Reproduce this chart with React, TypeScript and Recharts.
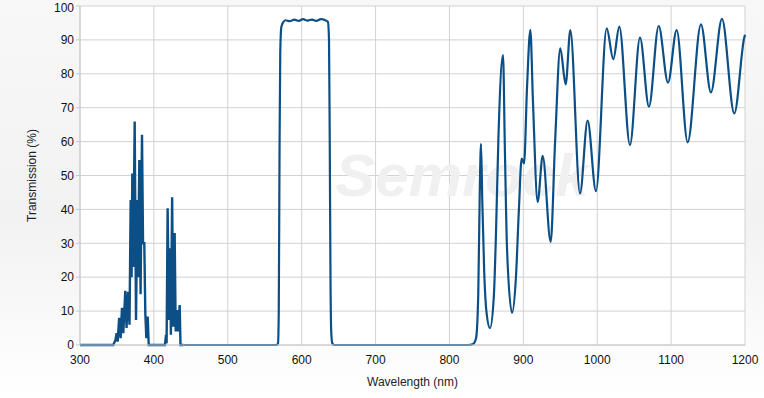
import React from "react";
import {
  LineChart,
  Line,
  XAxis,
  YAxis,
  CartesianGrid,
  Customized,
} from "recharts";

interface Point {
  wl: number;
  t: number;
}

// UV leakage spikes (300-440 nm)
const uvBand: [number, number][] = [
  [300, 0], [345, 0], [348, 1.5], [349.6, 3.5], [351, 1], [353, 8], [355, 2],
  [356.8, 11], [358.6, 3.5], [361.3, 16], [363, 5], [365, 15.7], [367, 6],
  [368.6, 42.8], [369.8, 20], [370.8, 50.6], [372, 23], [374, 65.9],
  [375.8, 7.4], [377.5, 42.8], [378.5, 20], [380.3, 54.6], [382, 15],
  [383.9, 62], [385.3, 30], [387, 30], [388.4, 9.4], [389.8, 2], [391.6, 8.4],
  [393, 0], [415, 0], [416.4, 3], [417.2, 0.5], [418.6, 40.3], [420.4, 7.4],
  [421.8, 28.5], [423, 3], [424.7, 43.6], [426.2, 5.4], [428.1, 33],
  [429.5, 4], [431.3, 10.3], [432.8, 4], [434.9, 11.8], [436, 0], [440, 0],
];

// main passband (~570-640 nm)
const passBand: [number, number][] = [
  [440, 0], [566, 0], [568, 0.5], [569, 10], [570, 55], [571, 86],
  [572.5, 93.8], [575, 95.2], [578, 95.8], [584, 95.5], [590, 96.0],
  [596, 95.6], [602, 96.1], [608, 95.7], [614, 96.0], [620, 95.6],
  [626, 96.1], [632, 95.8], [635.5, 95.3], [637, 90], [638, 60],
  [639, 20], [640, 4], [641.5, 0.5], [644, 0],
];

// NIR blocking ripples (800-1200 nm)
const nirBand: [number, number][] = [
  [700, 0], [825, 0], [832, 0.3], [836, 2], [839, 15], [841, 45],
  [842.7, 59.3], [844.5, 42], [847, 22], [850, 10], [854.9, 5], [860, 14],
  [863, 33], [866.2, 60.5], [872.5, 85.5], [875, 58], [878, 28],
  [884.7, 9.5], [890, 20], [894, 40], [897.7, 55], [901, 53.6], [905, 76],
  [909.5, 93], [913, 72], [919.4, 42.2], [926.2, 55.8], [937, 30.4],
  [943, 60], [950, 87.5], [957.3, 76.9], [963.6, 92.9], [976.7, 44.7],
  [987, 66.2], [998.3, 45.4], [1012.8, 93.4], [1021.8, 84.3],
  [1029.9, 93.9], [1044.3, 59], [1057.9, 90.7], [1070, 70.3],
  [1083.2, 94.1], [1095.8, 77.4], [1107.5, 92.9], [1122.4, 59.8],
  [1140.4, 94.6], [1153.9, 74.5], [1168.8, 96.2], [1185.5, 68.3],
  [1199, 90.7], [1200, 91.5],
];

const xTicks = [300, 400, 500, 600, 700, 800, 900, 1000, 1100, 1200];
const yTicks = [0, 10, 20, 30, 40, 50, 60, 70, 80, 90, 100];

const toPoints = (arr: [number, number][]): Point[] =>
  arr.map(([wl, t]) => ({ wl, t }));

const uvData = toPoints(uvBand);
const visNirData = toPoints([...passBand, ...nirBand]);

const LINE = "#0b4f86";
const FONT = "'Liberation Sans', Arial, sans-serif";

const Watermark = () => (
  <text
    x={462}
    y={196}
    textAnchor="middle"
    fontFamily={FONT}
    fontSize={60}
    fontWeight="bold"
    fontStyle="italic"
    fill="#f0f0f0"
  >
    Semrock
  </text>
);

const App: React.FC = () => {
  return (
    <div
      style={{
        position: "absolute",
        left: 0,
        top: 0,
        width: 764,
        height: 398,
        background:
          "linear-gradient(to bottom, #f8f8f8 0%, #f2f2f2 55%, #ffffff 100%)",
        fontFamily: FONT,
      }}
    >
      <LineChart
        width={764}
        height={398}
        margin={{ top: 6, right: 19, bottom: 0, left: 0 }}
      >
        <CartesianGrid stroke="#d2d2d2" fill="#ffffff" strokeWidth={1} />
        <Customized component={Watermark} />
        <XAxis
          dataKey="wl"
          type="number"
          domain={[300, 1200]}
          ticks={xTicks}
          height={53}
          tickLine={false}
          axisLine={{ stroke: "#c8c8c8" }}
          tick={{ fontSize: 12, fill: "#111", fontFamily: FONT }}
          tickMargin={4}
          label={{
            value: "Wavelength (nm)",
            position: "insideBottom",
            offset: 12,
            fontSize: 12,
            fill: "#222",
            fontFamily: FONT,
          }}
        />
        <YAxis
          type="number"
          domain={[0, 100]}
          ticks={yTicks}
          width={80}
          tickSize={4}
          tickLine={{ stroke: "#c8c8c8" }}
          axisLine={{ stroke: "#c8c8c8" }}
          tick={{ fontSize: 12, fill: "#111", fontFamily: FONT }}
          label={{
            value: "Transmission (%)",
            angle: -90,
            position: "insideLeft",
            offset: 32,
            style: { textAnchor: "middle" },
            fontSize: 12,
            fill: "#222",
            fontFamily: FONT,
          }}
        />
        <Line
          data={uvData}
          dataKey="t"
          type="linear"
          stroke={LINE}
          strokeWidth={2.4}
          dot={false}
          isAnimationActive={false}
        />
        <Line
          data={visNirData}
          dataKey="t"
          type="monotone"
          stroke={LINE}
          strokeWidth={2.2}
          dot={false}
          isAnimationActive={false}
        />
      </LineChart>
    </div>
  );
};

export default App;
